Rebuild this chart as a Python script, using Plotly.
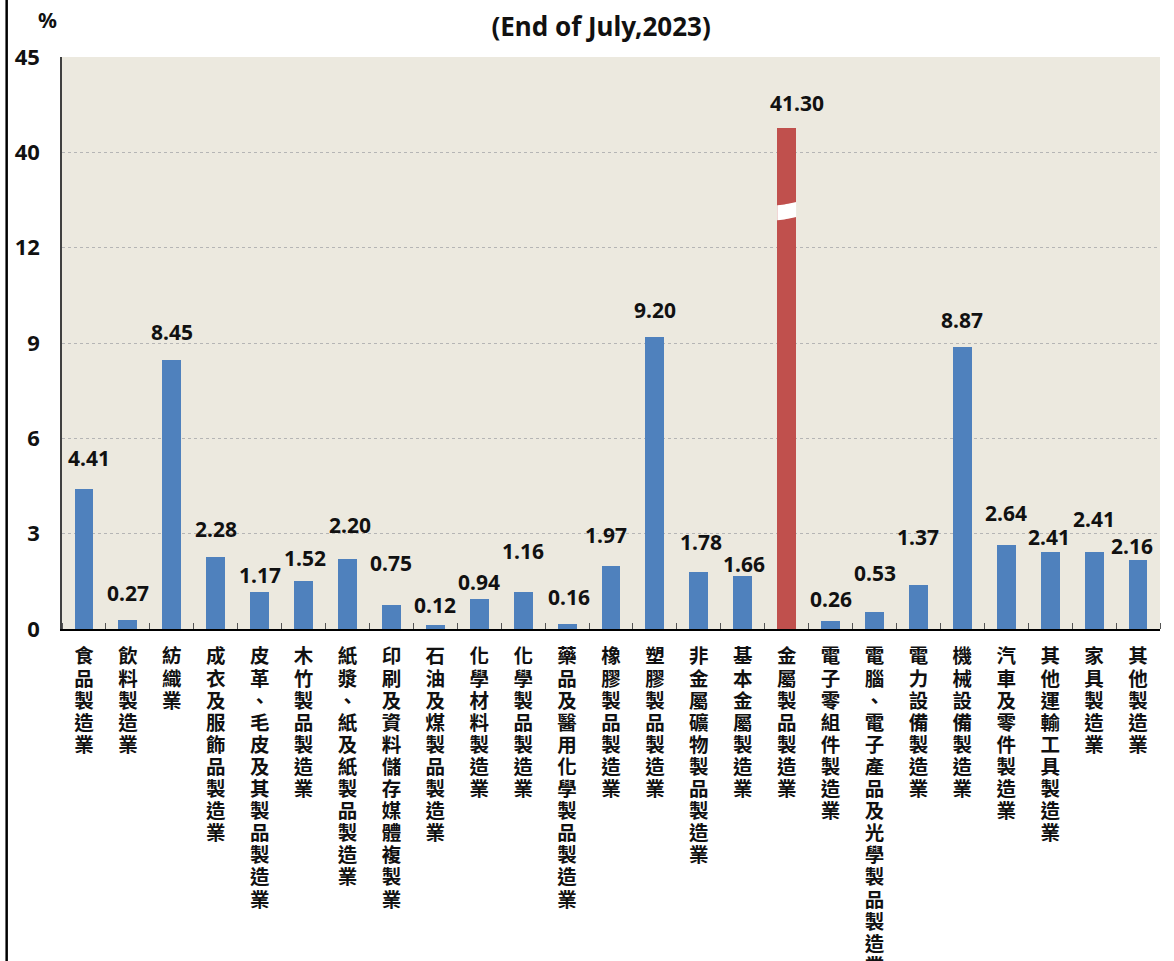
import plotly.graph_objects as go

# ---------------- data ----------------
categories = [
    "食品製造業", "飲料製造業", "紡織業", "成衣及服飾品製造業",
    "皮革、毛皮及其製品製造業", "木竹製品製造業", "紙漿、紙及紙製品製造業",
    "印刷及資料儲存媒體複製業", "石油及煤製品製造業", "化學材料製造業",
    "化學製品製造業", "藥品及醫用化學製品製造業", "橡膠製品製造業",
    "塑膠製品製造業", "非金屬礦物製品製造業", "基本金屬製造業",
    "金屬製品製造業", "電子零組件製造業", "電腦、電子產品及光學製品製造業",
    "電力設備製造業", "機械設備製造業", "汽車及零件製造業",
    "其他運輸工具製造業", "家具製造業", "其他製造業",
]
values = [4.41, 0.27, 8.45, 2.28, 1.17, 1.52, 2.20, 0.75, 0.12, 0.94,
          1.16, 0.16, 1.97, 9.20, 1.78, 1.66, 41.30, 0.26, 0.53, 1.37,
          8.87, 2.64, 2.41, 2.41, 2.16]
highlight = "金屬製品製造業"

y_tick_values = [0, 3, 6, 9, 12, 40, 45]
title_text = "(End of July,2023)"
unit_text = "%"

# label placement tweaks (pixels, relative to bar top / bar centre)
label_dy = [30.5, 27.5, 28, 27.5, 17, 23, 34, 42, 20, 17, 41, 27, 31, 27,
            30, 12, 25, 22, 39, 48, 27, 32, 15, 33, 14.5]
label_dx = [5, 0, 0, 0, 0, 1, 3, 0, 0, 0, 0, 2, -5, 0, 2, 1, 10, 0, 0, 0,
            0, 0, -1, 0, -6]

# ---------------- broken axis mapping ----------------
# 0-12 linear, 12-40 compressed into one gridline step, 40-45 one step
SEGMENTS = [(0, 12, 0, 12), (12, 40, 12, 15), (40, 45, 15, 18)]


def ymap(v):
    for a, b, da, db in SEGMENTS:
        if v <= b:
            return da + (v - a) * (db - da) / (b - a)
    a, b, da, db = SEGMENTS[-1]
    return da + (v - a) * (db - da) / (b - a)


BLUE = "#4F81BD"
RED = "#C0504D"
FONT = "Noto Sans, Noto Sans CJK TC, sans-serif"
CJK_FONT = "Liberation Sans, Noto Sans CJK TC, sans-serif"
BAR_W = 0.43

xs = list(range(len(categories)))
ys = [ymap(v) for v in values]
colors = [RED if c == highlight else BLUE for c in categories]


def vertical(label):
    return "<br>".join(
        f"<span style='font-size:19.5px'>{ch}</span>" for ch in label)


fig = go.Figure()
fig.add_trace(go.Bar(
    x=xs, y=ys, width=BAR_W,
    marker=dict(color=colors, line=dict(width=0)),
    customdata=values, hovertemplate="%{customdata:.2f}<extra></extra>",
    showlegend=False,
))

# value labels
for i, v in enumerate(values):
    fig.add_annotation(
        x=xs[i], y=ys[i], xref="x", yref="y",
        text=f"{v:.2f}", showarrow=False,
        yanchor="middle", xanchor="center",
        yshift=label_dy[i], xshift=label_dx[i],
        font=dict(family=FONT, size=21, color="#111111", weight="bold"),
    )

# break marker on the highlighted (out-of-scale) bar
hi = categories.index(highlight)
brk = 13.15          # display position of the break
hh = 0.235           # half height of the gap
tilt = 0.05
xl, xr = xs[hi] - BAR_W / 2, xs[hi] + BAR_W / 2
w = xr - xl
top_l, top_r = brk + hh - tilt, brk + hh + tilt
bot_l, bot_r = brk - hh - tilt, brk - hh + tilt
path = (
    f"M {xl},{top_l} "
    f"C {xl + w * 0.45},{top_l + 0.02} {xl + w * 0.5},{top_r - 0.06} {xr},{top_r} "
    f"L {xr},{bot_r} "
    f"C {xl + w * 0.5},{bot_r - 0.06} {xl + w * 0.45},{bot_l + 0.02} {xl},{bot_l} Z"
)
fig.add_shape(type="path", path=path, xref="x", yref="y",
              fillcolor="white", line=dict(width=0), layer="above")

# left border of the page
fig.add_shape(type="line", xref="paper", yref="paper",
              x0=-0.0504, x1=-0.0504, y0=-1, y1=2,
              line=dict(color="black", width=2.5))

# unit label
fig.add_annotation(
    x=-0.0128, y=1.0647, xref="paper", yref="paper",
    text=unit_text, showarrow=False, xanchor="center", yanchor="middle",
    font=dict(family=FONT, size=21, color="#111111", weight="bold"),
)

fig.update_layout(
    width=1174, height=961,
    margin=dict(l=62, r=14, t=57, b=332, autoexpand=False),
    paper_bgcolor="white",
    plot_bgcolor="#ECE9DF",
    font=dict(family=FONT, color="#111111"),
    bargap=0,
    title=dict(
        text=title_text, x=0.512, xref="container", xanchor="center",
        y=1 - 27 / 961, yref="container", yanchor="middle",
        font=dict(family=FONT, size=26, color="#111111", weight="bold"),
    ),
    xaxis=dict(
        range=[-0.5, len(categories) - 0.5],
        tickmode="array", tickvals=xs,
        ticktext=[vertical(c) for c in categories],
        tickangle=0, ticks="",
        tickfont=dict(family=CJK_FONT, size=17, color="#111111", weight="bold"),
        ticklabelstandoff=12,
        showline=True, linecolor="black", linewidth=2,
        showgrid=False, zeroline=False, automargin=False, fixedrange=True,
        minor=dict(tick0=0.5, dtick=1, ticks="inside", ticklen=6,
                   tickcolor="#555555", tickwidth=1, showgrid=False),
    ),
    yaxis=dict(
        range=[0, 18],
        tickmode="array",
        tickvals=[ymap(t) for t in y_tick_values],
        ticktext=[str(t) for t in y_tick_values],
        ticks="", ticklabelstandoff=16,
        tickfont=dict(family=FONT, size=22, color="#111111", weight="bold"),
        showline=True, linecolor="#404040", linewidth=1.5,
        showgrid=True, gridcolor="#b5b5b5", gridwidth=1, griddash="dot",
        zeroline=False, automargin=False, fixedrange=True,
    ),
    yaxis2=dict(
        overlaying="y", side="right", range=[0, 9],
        tickmode="linear", tick0=0, dtick=1,
        ticks="outside", ticklen=6, tickcolor="#8c8c8c", tickwidth=1.5,
        showticklabels=False,
        showline=True, linecolor="#8c8c8c", linewidth=2,
        showgrid=False, zeroline=False, automargin=False, fixedrange=True,
    ),
)

fig.write_html(
    "out.html",
    config={"displayModeBar": False},
    post_script="document.body.style.margin='0';document.body.style.padding='0';",
)
